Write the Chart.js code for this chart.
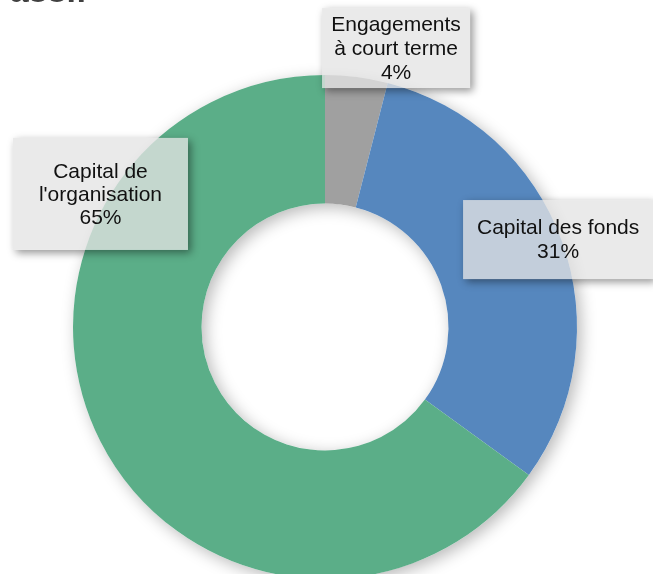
<!DOCTYPE html>
<html>
<head>
<meta charset="utf-8">
<script src="https://cdn.jsdelivr.net/npm/chart.js@4/dist/chart.umd.min.js"></script>
<style>
    html, body { margin: 0; padding: 0; background: #fff; overflow: hidden; }
    #wrap { position: relative; width: 653px; height: 600px; }
    #title {
        position: absolute; left: -13px; top: -27px;
        font: bold 34px "Liberation Sans", Arial, sans-serif;
        line-height: 34px; color: #404040; white-space: nowrap;
    }
</style>
</head>
<body>
<div id="wrap">
    <canvas id="passifChart"></canvas>
    <div id="title">Passif</div>
</div>
<script>
// categories (split on the lines shown in the labels) and shares in %
const categories = [
    ['Engagements', 'à court terme'],
    ['Capital des fonds'],
    ['Capital de', "l'organisation"]
];
const values = [4, 31, 65];
const colors = ['#A0A0A0', '#5687BE', '#5BAE88'];

// where each label box sits, relative to the doughnut centre, in outer radii
const labelBoxes = [
    { dx: 0.282, dy: -1.107, w: 148, h: 80, lh: 24 },
    { dx: 0.925, dy: -0.347, w: 190, h: 79, lh: 24 },
    { dx: -0.891, dy: -0.528, w: 175, h: 112, lh: 23 }
];

const ringShadow = {
    id: 'ringShadow',
    beforeDatasetsDraw(chart) {
        const arc = chart.getDatasetMeta(0).data[0];
        if (!arc) return;
        const { x, y, outerRadius, innerRadius } = arc.getProps(['x', 'y', 'outerRadius', 'innerRadius'], true);
        const ctx = chart.ctx;
        ctx.save();
        ctx.shadowColor = 'rgba(0,0,0,0.28)';
        ctx.shadowBlur = 16;
        ctx.shadowOffsetX = 4;
        ctx.shadowOffsetY = 4;
        ctx.fillStyle = '#ffffff';
        ctx.beginPath();
        ctx.arc(x, y, outerRadius, 0, Math.PI * 2);
        ctx.arc(x, y, innerRadius, Math.PI * 2, 0, true);
        ctx.closePath();
        ctx.fill();
        ctx.restore();
    }
};

const boxLabels = {
    id: 'boxLabels',
    afterDatasetsDraw(chart) {
        const meta = chart.getDatasetMeta(0);
        const data = chart.data.datasets[0].data;
        const total = data.reduce((a, b) => a + b, 0);
        const ctx = chart.ctx;
        meta.data.forEach((arc, i) => {
            const { x, y, outerRadius } = arc.getProps(['x', 'y', 'outerRadius'], true);
            const box = labelBoxes[i];
            const cx = x + box.dx * outerRadius;
            const cy = y + box.dy * outerRadius;
            const bx = cx - box.w / 2;
            const by = cy - box.h / 2;

            // shadow only outside the box so the translucent fill stays clean
            ctx.save();
            ctx.beginPath();
            ctx.rect(0, 0, chart.width, chart.height);
            ctx.rect(bx, by, box.w, box.h);
            ctx.clip('evenodd');
            ctx.shadowColor = 'rgba(0,0,0,0.42)';
            ctx.shadowBlur = 8;
            ctx.shadowOffsetX = 3;
            ctx.shadowOffsetY = 3;
            ctx.fillStyle = '#e4e4e4';
            ctx.fillRect(bx, by, box.w, box.h);
            ctx.restore();

            ctx.save();
            ctx.fillStyle = 'rgba(228,228,228,0.77)';
            ctx.fillRect(bx, by, box.w, box.h);

            const lines = [...chart.data.labels[i], Math.round(data[i] / total * 100) + '%'];
            ctx.fillStyle = '#111';
            ctx.font = '21px "Liberation Sans", Arial, sans-serif';
            ctx.textAlign = 'center';
            ctx.textBaseline = 'middle';
            const top = cy - (lines.length - 1) * box.lh / 2;
            lines.forEach((line, k) => ctx.fillText(line, cx, top + k * box.lh + 1));
            ctx.restore();
        });
    }
};

document.addEventListener('DOMContentLoaded', function() {
    const canvas = document.getElementById('passifChart');
    new Chart(canvas.getContext('2d'), {
        type: 'doughnut',
        data: {
            labels: categories,
            datasets: [{
                data: values,
                backgroundColor: colors,
                borderWidth: 0
            }]
        },
        options: {
            responsive: true,
            maintainAspectRatio: false,
            animation: false,
            events: [],
            cutout: '49%',
            layout: {
                padding: { top: 75, bottom: 21, left: 73, right: 76 }
            },
            plugins: {
                legend: { display: false },
                tooltip: { enabled: false }
            }
        },
        plugins: [ringShadow, boxLabels]
    });
});
</script>
</body>
</html>
